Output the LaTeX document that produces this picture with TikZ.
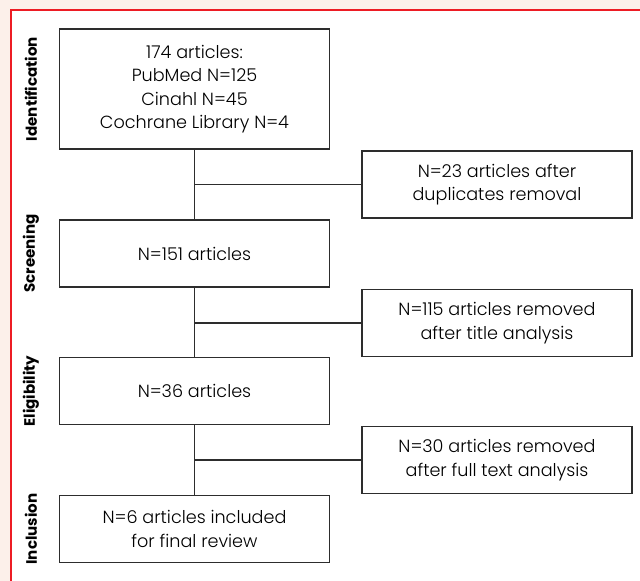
\documentclass[tikz,border=0pt]{standalone}
\usepackage{fontspec}
\setmainfont{Poppins}[UprightFont=* Light, BoldFont=* Bold]
\definecolor{framered}{RGB}{237,28,36}
\definecolor{bgpink}{RGB}{252,240,234}
\definecolor{linegray}{RGB}{45,45,45}

\begin{document}
\begin{tikzpicture}[x=0.75pt, y=-0.75pt,
  box/.style={draw=linegray, line width=0.8pt, minimum width=203pt, minimum height=50.25pt,
    inner sep=0pt, align=center, font=\fontsize{13.2}{17.5}\selectfont},
  sidebox/.style={box, minimum width=202.5pt},
  stage/.style={rotate=90, font=\fontsize{11.3}{14}\selectfont\bfseries},
  link/.style={draw=linegray, line width=0.8pt}]
\useasboundingbox (0,0) rectangle (640,581);
\fill[bgpink] (0,0) rectangle (640,581);
\fill[white] (11,10) rectangle (640,581);
\draw[framered, line width=1.2pt] (11,581) |- (640,10);

\node[box, minimum height=90pt] (id) at (194.5,89) {174 articles:\\PubMed N=125\\Cinahl N=45\\Cochrane Library N=4};
\node[box] (scr) at (194.5,253.5) {N=151 articles};
\node[box] (eli) at (194.5,391) {N=36 articles};
\node[box] (inc) at (194.5,529) {N=6 articles included\\for final review};
\node[sidebox] (dup) at (497,184.5) {N=23 articles after\\duplicates removal};
\node[sidebox] (tit) at (497,323) {N=115 articles removed\\after title analysis};
\node[sidebox] (ful) at (497,460) {N=30 articles removed\\after full text analysis};

\node[stage] (lid) at (31,89) {Identification};
\node[stage] (lscr) at (31,253.5) {Screening};
\node[stage] (leli) at (31,391) {Eligibility};
\node[stage] (linc) at (31,529) {Inclusion};

\draw[link] (id) -- (scr);
\draw[link] (scr) -- (eli);
\draw[link] (eli) -- (inc);
\draw[link] (dup.west) -- (dup.west -| id.south);
\draw[link] (tit.west) -- (tit.west -| scr.south);
\draw[link] (ful.west) -- (ful.west -| eli.south);
\end{tikzpicture}
\end{document}
